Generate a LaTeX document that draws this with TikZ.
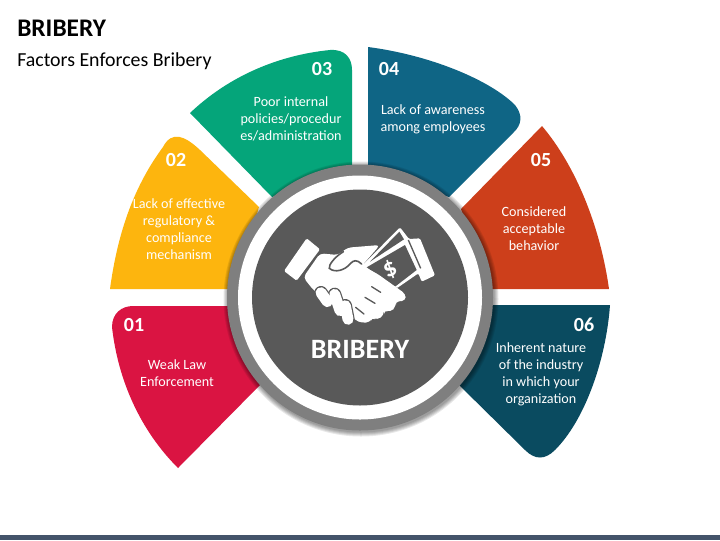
\documentclass[tikz,border=0pt]{standalone}
\usepackage{fontspec}
\setmainfont{Carlito}
\definecolor{segred}{HTML}{DA1442}
\definecolor{segyellow}{HTML}{FDB50E}
\definecolor{seggreen}{HTML}{05A57A}
\definecolor{segblue}{HTML}{0F6585}
\definecolor{segorange}{HTML}{CD3F1B}
\definecolor{segteal}{HTML}{0A4B60}
\definecolor{ringgray}{HTML}{7F7F7F}
\definecolor{hubgray}{HTML}{595959}
\definecolor{barblue}{HTML}{44546A}
\tikzset{
  seglabel/.style={text=white,align=center,inner sep=0pt,font=\fontsize{10.6}{12.75}\selectfont},
  segnum/.style={text=white,inner sep=0pt,font=\fontsize{15}{15}\selectfont\bfseries},
  fingerout/.style={hubgray,line width=10pt,line cap=round},
  fingerin/.style={white,line width=8.2pt,line cap=round},
  slit/.style={hubgray,line width=1pt,line cap=round}
}
\begin{document}
\begin{tikzpicture}[x=0.75pt,y=-0.75pt]
  \useasboundingbox (0,0) rectangle (720,540);
  \fill[white] (0,0) rectangle (720,540);
  \fill[barblue] (0,535) rectangle (720,540);
  \node[anchor=base west,inner sep=0pt,font=\fontsize{19}{19}\selectfont\bfseries] (title) at (17,36) {BRIBERY};
  \node[anchor=base west,inner sep=0pt,font=\fontsize{14.9}{14.9}\selectfont] (subtitle) at (17,66) {Factors Enforces Bribery};
  % segments
  \fill[segred] (133,306) -- (235,306) -- (261,384) -- (178,468) .. controls (140,430) and (118,380) .. (112,327) .. controls (112,313) and (122,306) .. (133,306) -- cycle;
  \fill[segyellow] (110,289) -- (235,289) -- (259,207) -- (200,150) .. controls (185,136) and (172,130) .. (163,147) .. controls (135,185) and (118,230) .. (110,289) -- cycle;
  \fill[seggreen] (190,113) .. controls (230,75) and (280,55) .. (330,50) .. controls (345,49) and (352,58) .. (352,70) -- (352,170) -- (272,197) -- cycle;
  \fill[segblue] (368,47) .. controls (430,55) and (490,80) .. (515,105) .. controls (523,115) and (522,125) .. (513,133) -- (449,197) -- (368,170) -- cycle;
  \fill[segorange] (542,126) .. controls (575,165) and (600,225) .. (609,289) -- (485,289) -- (461,209) -- cycle;
  \fill[segteal] (485,305) -- (610,305) .. controls (606,360) and (585,420) .. (555,450) .. controls (545,460) and (535,460) .. (525,450) -- (458,384) -- cycle;
  % hub
  \foreach \r in {137.5,136.5,135.5,134.5,133.5}
    \fill[black,opacity=0.09] (361,299) circle[radius=\r];
  \fill[ringgray] (360,297.5) circle[radius=133];
  \fill[white] (360,297.5) circle[radius=122];
  \fill[hubgray] (360,297.5) circle[radius=108];
  % icon
  \begin{scope}[shift={(260,190)},x=0.25pt,y=-0.25pt]
    \fill[white,rounded corners=1pt] (305,228) -- (420,112) -- (447,147) -- (480,145) -- (525,256) -- (485,275) -- (475,250) -- (410,295) -- cycle;
    \fill[hubgray] (320,232) -- (435,165) -- (470,240) -- (405,290) -- cycle;
    \fill[hubgray] (330,215) -- (418,125) -- (432,148) -- cycle;
    \draw[hubgray,line width=1pt] (445,150) -- (482,235);
    \node[text=white,inner sep=0pt,rotate=25,font=\fontsize{19}{19}\selectfont\bfseries] (dollar) at (390,240) {\$};
    \fill[white,rounded corners=1pt] (140,145) -- (180,178) -- (110,272) -- (72,243) -- cycle;
    \fill[white,rounded corners=3pt] (180,190) -- (235,195) -- (262,173) -- (360,165) -- (305,228) -- (350,250) -- (437,312) -- (437,332) -- (405,335) -- (408,350) -- (392,366) -- (372,360) -- (372,375) -- (352,390) -- (335,382) -- (330,398) -- (295,397) -- (265,370) -- (220,345) -- (160,300) -- (130,262) -- cycle;
    \draw[hubgray,line width=1.2pt,fill=white,line cap=round] (250,185) .. controls (225,200) and (205,225) .. (208,235) .. controls (225,250) and (255,240) .. (270,222) .. controls (280,210) and (290,208) .. (305,222);
    \draw[fingerout] (183,308) -- (202,335);
    \draw[fingerout] (224,313) -- (240,362);
    \draw[fingerout] (256,347) -- (264,388);
    \draw[fingerin] (183,308) -- (202,335);
    \draw[fingerin] (224,313) -- (240,362);
    \draw[fingerin] (256,347) -- (264,388);
    \draw[slit] (335,290) -- (362,307);
    \draw[slit] (315,322) -- (345,340);
    \draw[slit] (287,352) -- (312,372);
  \end{scope}
  \node[text=white,inner sep=0pt,font=\fontsize{21}{21}\selectfont\bfseries] (hub) at (360,349) {BRIBERY};
  % numbers and texts
  \node[segnum] (num1) at (134,325) {01};
  \node[segnum] (num2) at (176,160) {02};
  \node[segnum] (num3) at (322,69) {03};
  \node[segnum] (num4) at (389,69) {04};
  \node[segnum] (num5) at (541,160) {05};
  \node[segnum] (num6) at (584,325) {06};
  \node[seglabel] (text1) at (177,373) {Weak Law\\Enforcement};
  \node[seglabel] (text2) at (179,229) {Lack of effective\\regulatory \&\\compliance\\mechanism};
  \node[seglabel] (text3) at (291,118.5) {Poor internal\\policies/procedur\\es/administration};
  \node[seglabel] (text4) at (433,119) {Lack of awareness\\among employees};
  \node[seglabel] (text5) at (534,228.5) {Considered\\acceptable\\behavior};
  \node[seglabel] (text6) at (541,374.5) {Inherent nature\\of the industry\\in which your\\organization};
\end{tikzpicture}
\end{document}
